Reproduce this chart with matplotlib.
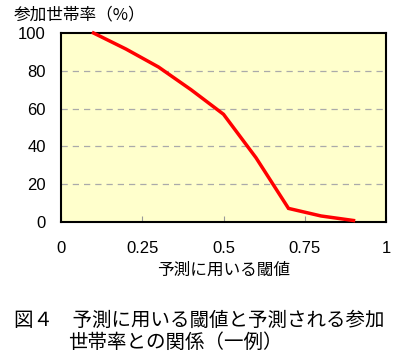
import matplotlib
matplotlib.use("Agg")
import matplotlib.pyplot as plt

thresholds = [0.1, 0.2, 0.3, 0.4, 0.5, 0.6, 0.7, 0.8, 0.9]
rates = [100, 91.5, 82, 70, 57, 34, 7.2, 3.2, 0.8]
xticks = [0, 0.25, 0.5, 0.75, 1]
xticklabels = ["0", "0.25", "0.5", "0.75", "1"]
yticks = [0, 20, 40, 60, 80, 100]

plt.rcParams['font.family'] = ['Noto Sans CJK JP', 'DejaVu Sans']

fig = plt.figure(figsize=(4, 3.61), dpi=100)
ax = fig.add_axes([0.1525, 0.385, 0.8125, 0.5236])
ax.set_facecolor('#FFFFCC')
ax.plot(thresholds, rates, color='#FF0000', lw=2.5, solid_joinstyle='miter', clip_on=False, zorder=3)
ax.set_xlim(0, 1)
ax.set_ylim(0, 100)
ax.set_yticks(yticks)
ax.set_yticklabels([str(v) for v in yticks], fontsize=12, family=['Liberation Sans'])
ax.set_xticks(xticks)
ax.set_xticklabels(xticklabels, fontsize=12, family=['Liberation Sans'])
ax.tick_params(axis='y', length=0, pad=11)
ax.tick_params(axis='x', direction='in', length=4, color='#999999', pad=14)
for v in [20, 40, 60, 80]:
    ax.axhline(v, color='#AAAAAA', lw=0.9, ls=(0, (5, 4)), zorder=1)
for s in ax.spines.values():
    s.set_linewidth(1.5)
    s.set_color('black')

fig.text(0.035, 0.958, '参加世帯率（%）', fontsize=12, va='center', ha='left')
fig.text(0.558, 0.252, '予測に用いる閾値', fontsize=12, va='center', ha='center')
fig.text(0.035, 0.113, '図４　予測に用いる閾値と予測される参加', fontsize=14, va='center', ha='left')
fig.text(0.17, 0.052, '世帯率との関係（一例）', fontsize=14, va='center', ha='left')

fig.savefig('out.png', dpi=100)
